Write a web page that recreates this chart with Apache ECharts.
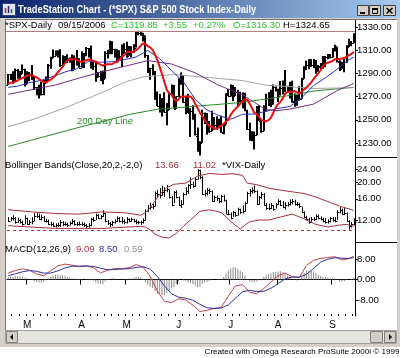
<!DOCTYPE html>
<html>
<head>
<meta charset="utf-8">
<title>TradeStation Chart - SPX</title>
<script src="https://cdn.jsdelivr.net/npm/echarts@6.0.0/dist/echarts.min.js"></script>
<style>
html,body{margin:0;padding:0;background:#fff;overflow:hidden}
#chart{width:400px;height:358px}
</style>
</head>
<body>
<div id="chart"></div>
<script>
// ---------- categories (trading days, 2006) ----------
const tradingDays = [
  [2, [16,17,21,22,23,24,27,28]],
  [3, [1,2,3,6,7,8,9,10,13,14,15,16,17,20,21,22,23,24,27,28,29,30,31]],
  [4, [3,4,5,6,7,10,11,12,13,17,18,19,20,21,24,25,26,27,28]],
  [5, [1,2,3,4,5,8,9,10,11,12,15,16,17,18,19,22,23,24,25,26,30,31]],
  [6, [1,2,5,6,7,8,9,12,13,14,15,16,19,20,21,22,23,26,27,28,29,30]],
  [7, [3,5,6,7,10,11,12,13,14,17,18,19,20,21,24,25,26,27,28,31]],
  [8, [1,2,3,4,7,8,9,10,11,14,15,16,17,18,21,22,23,24,25,28,29,30,31]],
  [9, [1,5,6,7,8,11,12,13,14,15]]
];
const monthLetters = {3:'M',4:'A',5:'M',6:'J',7:'J',8:'A',9:'S'};

// ---------- SPX daily OHLC ----------
const spxOpen = [1280.0,1289.4,1287.2,1283.0,1292.7,1287.8,1289.4,1294.1,
1280.7,1291.2,1289.1,1287.2,1278.3,1275.9,1278.5,1272.2,1281.4,1284.1,1297.5,1303.0,1305.3,1307.3,1305.1,1297.2,1305.0,1301.7,1302.9,1301.6,1293.2,1302.9,1300.3,
1294.9,1297.8,1305.9,1311.6,1309.0,1295.5,1296.6,1286.6,1288.1,1289.1,1285.3,1307.3,1309.9,1311.5,1311.3,1308.1,1301.7,1305.4,1309.7,
1310.6,1305.2,1313.2,1308.1,1312.3,1325.8,1324.7,1325.1,1322.6,1305.9,1291.2,1294.5,1292.1,1270.3,1261.8,1267.0,1262.1,1256.6,1258.6,1272.9,1280.0,1259.4,
1270.1,1285.7,1288.2,1265.2,1263.6,1256.1,1257.9,1252.3,1236.1,1223.7,1230.0,1256.2,1251.5,1240.1,1240.1,1252.2,1245.6,1244.5,1250.6,1238.9,1245.9,1272.9,
1270.1,1280.1,1270.6,1274.1,1265.5,1267.3,1272.4,1258.6,1242.3,1236.2,1234.5,1236.7,1259.8,1249.1,1240.3,1260.9,1268.9,1268.4,1263.2,1278.5,
1276.7,1270.9,1277.4,1280.3,1279.3,1275.7,1271.1,1265.7,1271.6,1266.7,1268.2,1285.3,1295.4,1297.5,1302.3,1297.5,1298.7,1292.9,1295.9,1295.1,1301.8,1304.3,1305.4,
1303.8,1311.0,1313.0,1300.2,1294.0,1298.9,1299.5,1312.7,1318.0,1316.3];
const spxHigh = [1289.4,1289.5,1291.9,1294.2,1293.8,1292.1,1297.6,1294.1,
1291.8,1291.2,1297.3,1288.2,1278.3,1280.3,1282.7,1284.4,1287.4,1298.1,1304.4,1310.5,1309.8,1310.0,1310.9,1305.6,1305.0,1306.5,1303.7,1306.2,1305.6,1310.2,1303.0,
1309.0,1307.6,1312.8,1311.9,1314.1,1300.7,1300.7,1290.9,1292.1,1292.5,1309.0,1310.4,1318.2,1317.7,1311.3,1310.8,1310.0,1315.0,1316.0,
1317.2,1313.7,1313.5,1315.1,1326.5,1326.7,1326.6,1325.1,1322.6,1305.9,1294.8,1297.9,1292.1,1274.4,1272.2,1268.8,1273.7,1264.5,1273.3,1280.5,1280.0,1270.1,
1285.7,1290.7,1288.2,1269.9,1272.5,1259.9,1262.6,1255.2,1243.4,1231.5,1258.6,1256.3,1255.9,1249.0,1257.9,1252.2,1253.1,1250.9,1253.4,1247.1,1272.9,1276.3,
1280.4,1280.1,1278.3,1275.8,1274.1,1273.6,1273.3,1258.6,1247.4,1240.1,1239.9,1261.8,1262.6,1250.0,1262.5,1272.4,1273.9,1275.9,1280.4,1278.7,
1276.7,1283.4,1283.9,1292.9,1279.3,1282.8,1283.7,1272.7,1271.6,1278.9,1286.2,1296.2,1300.8,1302.3,1302.3,1302.5,1301.5,1297.2,1298.9,1305.0,1305.0,1306.7,1306.8,
1312.0,1314.7,1313.0,1301.3,1300.1,1302.4,1314.3,1319.9,1318.0,1324.7];
const spxLow = [1280.0,1284.2,1281.3,1283.0,1285.4,1285.6,1289.4,1278.7,
1280.7,1283.2,1284.2,1275.7,1271.1,1268.4,1271.0,1271.1,1281.4,1282.7,1294.0,1303.0,1305.3,1303.6,1295.8,1295.6,1298.1,1298.9,1299.1,1291.8,1293.2,1296.7,1294.9,
1294.9,1294.7,1304.8,1303.8,1294.2,1293.2,1282.9,1286.4,1283.4,1280.7,1285.3,1302.8,1306.4,1306.6,1303.8,1299.2,1301.7,1295.6,1306.2,
1303.5,1305.2,1303.9,1307.9,1312.3,1322.9,1322.5,1317.4,1303.5,1290.4,1284.5,1288.5,1267.3,1261.8,1256.3,1252.9,1256.2,1245.3,1258.4,1271.8,1259.9,1259.4,
1269.2,1280.2,1264.6,1254.8,1255.8,1235.2,1250.0,1236.4,1222.5,1219.3,1230.0,1246.3,1237.2,1238.9,1240.1,1241.4,1241.4,1243.7,1238.9,1237.6,1245.9,1270.2,
1270.1,1265.9,1270.6,1261.4,1264.5,1259.7,1257.3,1241.4,1231.9,1231.5,1224.5,1236.7,1249.1,1238.9,1240.3,1257.2,1261.9,1261.0,1263.2,1274.3,
1265.3,1270.9,1271.7,1273.8,1273.2,1268.4,1264.7,1261.3,1262.1,1266.7,1268.2,1285.3,1292.7,1293.6,1295.5,1294.4,1289.8,1291.4,1292.7,1293.9,1295.3,1302.2,1302.9,
1303.8,1308.8,1299.3,1292.1,1294.0,1290.9,1299.5,1312.7,1313.3,1316.3];
const spxClose = [1289.4,1287.2,1283.0,1292.7,1287.8,1289.4,1294.1,1280.7,
1291.2,1289.1,1287.2,1278.3,1275.9,1278.5,1272.2,1281.4,1284.1,1297.5,1303.0,1305.3,1307.3,1305.1,1297.2,1305.0,1301.7,1302.9,1301.6,1293.2,1302.9,1300.3,1294.9,
1297.8,1305.9,1311.6,1309.0,1295.5,1296.6,1286.6,1288.1,1289.1,1285.3,1307.3,1309.9,1311.5,1311.3,1308.1,1301.7,1305.4,1309.7,1310.6,
1305.2,1313.2,1308.1,1312.3,1325.8,1324.7,1325.1,1322.9,1305.9,1291.2,1294.5,1292.1,1270.3,1261.8,1267.0,1262.1,1256.6,1258.6,1272.9,1280.2,1259.9,1270.1,
1285.7,1288.2,1265.3,1263.9,1256.2,1257.9,1252.3,1237.4,1223.7,1230.0,1256.2,1251.5,1240.1,1240.1,1252.2,1245.6,1244.5,1250.6,1239.2,1246.0,1272.9,1270.2,
1280.2,1270.9,1274.1,1265.5,1267.3,1272.4,1258.6,1242.3,1236.2,1234.5,1236.9,1259.8,1249.1,1240.3,1260.9,1268.9,1268.4,1263.2,1278.6,1276.7,
1270.9,1277.4,1280.3,1279.4,1275.8,1271.5,1265.9,1271.8,1266.7,1268.2,1285.6,1295.4,1297.5,1302.3,1297.5,1298.8,1292.9,1296.1,1295.1,1301.8,1304.3,1305.4,1303.8,
1311.0,1313.3,1300.3,1294.0,1298.9,1299.5,1313.0,1318.1,1316.3,1319.9];

// ---------- moving averages ----------
const ma10 = [1281,1282,1282,1283,1284,1285,1286,1287,1288,
1288.5,1288.2,1287.4,1286.6,1285.2,1283.7,1282.9,1281.9,1283.5,1284.7,1286.3,
1288.4,1291.0,1293.2,1295.8,1298.8,1300.9,1302.7,1302.2,1302.2,1301.7,
1300.5,1299.8,1300.6,1301.3,1302.0,1301.3,1300.8,1300.1,1298.6,1297.5,
1296.6,1297.5,1297.9,1297.9,1298.1,1299.4,1299.9,1301.8,1303.9,1306.1,
1308.1,1308.7,1308.5,1308.6,1310.0,1311.7,1314.0,1315.8,1315.4,1313.4,
1312.4,1310.3,1306.5,1301.4,1295.6,1289.3,1282.4,1276.0,1272.7,1271.6,
1268.2,1266.0,1267.5,1270.1,1270.0,1270.1,1270.1,1270.0,1268.0,1263.7,
1260.1,1256.1,1253.1,1249.4,1246.9,1244.5,1244.1,1242.9,1242.1,1243.5,
1245.0,1246.6,1248.3,1250.1,1254.2,1257.2,1259.4,1261.4,1263.7,1265.9,
1267.8,1267.4,1263.8,1260.2,1255.9,1254.8,1252.3,1249.7,1249.1,1248.8,
1249.7,1251.8,1256.1,1260.3,1263.7,1265.4,1268.6,1272.5,1274.0,1274.2,
1274.0,1274.8,1273.6,1272.8,1274.3,1276.1,1277.8,1280.1,1282.2,1285.0,
1287.7,1290.1,1292.9,1296.3,1298.2,1299.2,1299.8,1300.7,1302.3,1302.4,
1302.5,1302.8,1303.2,1304.4,1305.7,1306.8,1308.4];
const ma20Days = [0,4,9,14,19,24,29,34,39,44,49,54,59,64,69,74,79,84,89,94,99,104,109,114,119,124,129,134,139,144,146];
const ma20 = [1278,1279,1282,1284,1287.4,1291.2,1294.0,1300.4,1299.6,1300.1,1301.8,1304.1,1309.8,1302.8,1292.5,1282.8,1267.7,1258.4,1253.6,1250.5,1254.7,1255.0,1257.3,1259.8,1261.5,1269.0,1279.6,1286.2,1293.7,1302.0,1304.1];
const ma50Days = [0,10,20,30,39,49,59,69,79,89,99,104,109,114,119,129,139,146];
const ma50 = [1272,1276,1280,1286,1291,1296.0,1301.0,1298.1,1290.5,1279.7,1271.6,1265,1258.7,1258,1259.2,1263.5,1275.2,1281.4];
const ma100Days = [0,10,25,39,50,57,70,81,99,109,119,129,139,146];
const ma100 = [1244,1250,1261,1273,1283,1287,1289,1287,1283.8,1279.8,1278.6,1277.0,1277.4,1277.7];
const ma200Days = [0,29,52,63,81,99,116,130,146];
const ma200 = [1227,1243,1255,1259,1262,1265,1270,1275,1278];

// ---------- VIX daily ----------
const vixHigh = [12.4,12.4,12.7,12.4,12.3,12.1,11.8,12.7,
12.3,11.9,12.4,13.1,13.2,13.0,12.8,12.6,12.1,12.0,11.6,11.5,11.4,11.5,11.9,11.7,11.6,11.5,11.7,12.1,11.9,11.6,11.7,
11.6,11.5,11.3,11.4,12.3,12.4,13.0,12.9,12.8,13.6,13.1,11.9,11.6,11.8,12.0,12.5,12.4,12.4,12.0,
12.4,12.2,12.3,12.1,12.0,11.8,11.8,12.2,13.8,14.6,15.1,14.9,17.6,17.9,18.4,19.0,18.6,19.2,18.0,16.5,17.7,17.8,
16.4,15.6,17.3,18.6,19.4,21.3,20.1,21.2,23.8,23.6,21.6,17.9,18.4,18.3,17.8,16.6,16.6,16.1,16.8,16.8,15.7,13.6,
13.2,13.5,13.3,14.1,13.9,14.5,15.3,17.5,18.2,18.6,19.0,17.8,16.5,17.4,17.2,15.0,14.9,15.0,14.6,15.0,
15.8,15.6,15.4,15.2,15.2,15.8,15.9,15.7,15.2,15.0,14.3,13.4,12.6,12.3,12.4,12.4,12.9,12.8,12.5,12.3,12.2,12.0,12.4,
12.4,12.4,13.6,14.2,13.9,14.0,13.2,11.9,11.6,12.2];
const vixLow = [11.8,11.9,12.0,11.5,11.6,11.5,11.2,11.4,
11.3,11.3,11.4,11.9,12.4,12.1,12.0,11.8,11.7,11.3,11.1,11.0,10.9,11.0,11.0,11.1,11.2,11.0,11.2,11.4,11.2,11.1,11.2,
11.1,11.0,10.8,10.9,11.1,11.8,12.1,12.3,12.2,12.6,11.7,11.3,11.0,11.1,11.5,11.8,11.7,11.5,11.4,
11.5,11.7,11.8,11.7,11.4,11.4,11.3,11.5,12.0,13.5,13.9,14.0,14.6,16.5,16.2,16.8,16.5,17.6,16.2,14.6,15.2,16.2,
14.6,14.2,14.9,16.9,17.2,18.4,18.7,19.0,20.9,21.0,17.0,16.6,16.9,17.2,15.5,15.4,15.6,15.2,15.3,15.5,13.1,12.9,
12.2,12.6,12.6,12.8,13.1,13.2,13.5,15.2,16.6,17.3,17.4,14.8,14.9,16.1,14.7,13.9,13.8,14.0,13.7,14.1,
14.8,14.6,14.2,13.9,14.5,14.7,14.9,14.7,14.6,14.2,13.3,12.4,12.0,11.5,11.8,11.9,12.1,12.2,12.0,11.7,11.5,11.5,11.7,
11.8,11.7,12.1,13.2,12.9,12.9,11.8,10.6,10.9,11.2];
const vixClose = [11.9,12.3,12.3,11.6,12.0,11.6,11.4,12.3,
11.4,11.6,11.9,12.7,12.7,12.2,12.5,11.9,11.9,11.4,11.3,11.1,11.2,11.2,11.6,11.3,11.4,11.2,11.5,11.9,11.4,11.3,11.4,
11.4,11.2,11.0,11.2,12.2,12.0,12.9,12.4,12.6,13.2,11.8,11.5,11.3,11.6,11.9,12.3,11.9,11.9,11.6,
12.2,11.9,12.1,11.9,11.6,11.6,11.6,12.0,13.6,14.2,14.3,14.6,17.4,17.2,16.9,17.6,18.1,18.3,16.4,14.7,17.5,16.4,
14.7,14.9,17.1,17.8,19.2,19.5,19.1,21.0,23.8,21.5,17.0,17.4,18.1,17.7,15.6,16.3,16.1,15.5,16.7,15.7,13.1,13.1,
12.3,13.3,12.8,13.9,13.3,13.5,15.2,17.3,17.7,18.1,17.7,14.9,16.3,17.2,14.8,14.1,14.2,14.8,13.9,14.9,
15.6,14.8,14.4,14.7,15.0,15.4,15.5,14.9,14.9,14.5,13.4,12.5,12.2,11.6,12.2,12.2,12.7,12.3,12.2,11.9,11.7,11.8,12.3,
12.0,11.9,13.4,13.8,13.1,13.2,11.9,11.0,11.4,11.6];
const bbUpDays = [0,10,20,30,40,50,56,58,60,62,64,67,70,75,80,85,90,95,99,101,105,110,115,120,125,130,135,140,146];
const bbUpper = [13.8,13.4,13.1,13.0,13.4,13.2,12.8,13.3,14.2,15.5,17.0,18.6,19.5,19.8,21.8,22.6,22.3,22.5,22.0,19.8,19.4,18.5,18.0,17.6,17.2,16.4,15.4,14.5,13.66];
const bbLowDays = [0,10,20,30,40,50,56,58,60,62,65,68,71,74,77,81,85,90,94,98,100,102,106,110,115,120,125,130,135,140,143,146];
const bbLower = [11.1,10.9,10.7,10.7,10.7,10.9,11.0,10.9,10.5,9.9,9.5,9.4,10.0,11.0,12.0,13.5,13.8,13.3,11.8,10.6,11.2,11.7,12.0,12.0,12.5,13.0,12.2,11.3,10.9,11.2,11.3,11.02];
const vixRefLevel = 10.5;

// ---------- MACD(12,26,9) ----------
const macdDays = [0,3,6,9,12,15,18,21,24,27,30,33,36,39,42,45,48,51,54,57,60,63,66,69,72,75,78,81,84,87,90,93,96,99,102,105,108,111,114,117,120,123,126,129,132,135,138,141,144,146];
const macdLine = [2.5,3.5,4.2,3.6,2.2,1.4,3.5,5.3,6.0,5.6, 5.0,5.4,4.6,2.6,3.6,4.3,4.2,4.6,5.8,4.8, 1.2,-4.5,-8.5,-9.0,-7.5,-8.0,-10.0,-12.5,-12.0,-11.3, -10.8,-6.5,-2.5,-2.0,-5.0,-5.5,-3.5,-1.0,1.5,2.5, 1.0,0.8,5.5,7.5,8.2,8.6,8.9,7.6,8.2,9.09];
const macdSignal = [1.5,2.2,3.0,3.5,3.2,2.5,2.5,3.4,4.5,5.2, 5.2,5.2,5.1,4.4,3.8,3.9,4.1,4.2,4.7,5.0, 4.0,1.2,-2.5,-5.6,-6.9,-7.3,-8.1,-9.7,-11.0,-11.3, -11.1,-9.9,-7.3,-4.8,-4.2,-4.7,-4.6,-3.4,-1.6,0.2, 1.0,0.9,2.0,4.3,6.8,7.9,8.5,8.3,8.2,8.50];
const macdHist = [1.0,1.1,1.2,1.3,1.4,1.3,1.2,0.7,0.5,0.1,-0.2,-0.7,-1.0,-1.1,-1.3,-1.1,-0.4,0.4,1.0,1.5,
1.8,1.9,1.6,1.6,1.5,1.1,0.8,0.4,0.4,0.2,-0.2,-0.2,0.0,0.2,0.2,-0.3,-0.5,-1.2,-1.6,-1.8,
-1.9,-0.8,-0.2,0.3,0.5,0.4,0.1,0.1,0.1,0.3,0.2,0.4,0.3,0.5,1.1,1.1,0.8,-0.2,-1.1,-2.0,
-2.8,-3.3,-4.5,-5.7,-5.9,-6.1,-6.0,-5.3,-4.3,-3.4,-2.9,-1.9,-0.6,0.0,-0.4,-0.7,-1.1,-1.4,-1.9,-2.4,
-3.0,-2.8,-1.7,-1.2,-1.0,-0.6,-0.2,0.0,0.1,0.2,0.3,1.0,2.4,3.4,4.3,4.8,4.8,4.2,3.4,2.8,
1.5,0.2,-0.8,-1.0,-1.1,-0.8,-0.4,-0.3,1.1,1.6,2.0,2.4,2.9,3.0,3.1,3.2,2.9,2.3,1.6,1.0,
0.0,-0.1,-0.4,-0.1,1.2,2.6,3.5,3.4,3.3,3.2,2.5,1.9,1.4,1.1,0.9,0.7,0.4,0.6,0.4,-0.2,
-0.8,-0.7,-0.6,-0.2,0.0,0.2,0.59];

// ---------- axis tick labels ----------
const priceTicks = [1230,1250,1270,1290,1310,1330];
const vixTicks = [12,16,20,24];
const macdTicks = [-8,0,8];

// ---------- build ----------
const categories = [];
const monthStart = {};
tradingDays.forEach(([m, days]) => days.forEach((d, k) => {
  if (k === 0 && monthLetters[m] && d <= 3) monthStart[categories.length] = monthLetters[m];
  categories.push(String(m).padStart(2,'0') + '/' + String(d).padStart(2,'0') + '/2006');
}));
const pairs = (days, vals) => days.map((d, k) => [d, vals[k]]);
const spxData = categories.map((c, i) => [i, spxOpen[i], spxHigh[i], spxLow[i], spxClose[i]]);
const vixData = categories.map((c, i) => [i, vixHigh[i], vixLow[i], vixClose[i]]);

const FONT = '"Liberation Sans", Arial, Helvetica, sans-serif';

function ohlcBar(params, api) {
  const x = api.value(0);
  const h = api.coord([x, api.value(2)]);
  const l = api.coord([x, api.value(3)]);
  const o = api.coord([x, api.value(1)]);
  const c = api.coord([x, api.value(4)]);
  const cx = Math.round(h[0]);
  return {type:'group', children:[
    {type:'line', shape:{x1:cx, y1:h[1], x2:cx, y2:l[1]}, style:{stroke:'#000', lineWidth:2}},
    {type:'line', shape:{x1:cx-2, y1:Math.round(o[1])+0.5, x2:cx, y2:Math.round(o[1])+0.5}, style:{stroke:'#000', lineWidth:1}},
    {type:'line', shape:{x1:cx, y1:Math.round(c[1])+0.5, x2:cx+2, y2:Math.round(c[1])+0.5}, style:{stroke:'#000', lineWidth:1}}
  ]};
}
function hlcBar(params, api) {
  const x = api.value(0);
  const h = api.coord([x, api.value(1)]);
  const l = api.coord([x, api.value(2)]);
  const c = api.coord([x, api.value(3)]);
  const cx = Math.round(h[0]) + 0.5;
  return {type:'group', children:[
    {type:'line', shape:{x1:cx, y1:h[1]-0.5, x2:cx, y2:l[1]+0.5}, style:{stroke:'#000', lineWidth:1}},
    {type:'line', shape:{x1:cx, y1:Math.round(c[1])+0.5, x2:cx+2, y2:Math.round(c[1])+0.5}, style:{stroke:'#000', lineWidth:1}}
  ]};
}

const yAxisCommon = (ticks, extra) => Object.assign({
  position:'right',
  axisLine:{show:true, lineStyle:{color:'#000', width:1}},
  splitLine:{show:false},
  axisTick:{show:true, length:3, customValues:ticks, lineStyle:{color:'#000', width:1}},
  axisLabel:{show:true, customValues:ticks, formatter:v => Number(v).toFixed(2), color:'#000', fontSize:9.6, fontFamily:FONT, margin:2}
}, extra);

const lineS = (name, data, color, width, xi, yi, extra) => Object.assign({
  name, type:'line', data, xAxisIndex:xi, yAxisIndex:yi, showSymbol:false, symbol:'none',
  lineStyle:{color, width}, itemStyle:{color}, silent:true, animation:false, z:3
}, extra || {});

const TS = 9.5;
const txt = (x, y, text, fill, size, extra) => Object.assign({
  type:'text', x, y, z:100, silent:true,
  style:{text, fill, font:(size||TS) + 'px ' + FONT, verticalAlign:'middle', align:'left'}
}, extra || {});
const rect = (x, y, w, h, fill, stroke, z) => ({type:'rect', shape:{x, y, width:w, height:h}, style:{fill, stroke:stroke||null, lineWidth:1}, z:(z===undefined?-5:z), silent:true});
const seg = (x1, y1, x2, y2, color, w, z) => ({type:'line', shape:{x1, y1, x2, y2}, style:{stroke:color, lineWidth:w||1}, z:(z===undefined?5:z), silent:true});

const titleGrad = new echarts.graphic.LinearGradient(0, 0, 1, 0, [{offset:0, color:'#0a246a'}, {offset:1, color:'#a6caf0'}]);
const green = '#2fc22f', bandRed = '#a8303c';

const graphics = [
  rect(0, 0, 400, 347, '#d4d0c8', null, -20),
  rect(5, 19, 392, 311, '#ffffff', null, -19),
  rect(0, 0, 400, 18, titleGrad, null, -18),
  // icon
  rect(2.5, 3.5, 13, 12, '#dfe6f2', '#304080', -17),
  seg(5.5, 13, 5.5, 8, '#c02020', 1.5, -16), seg(8.5, 13, 8.5, 6, '#202080', 1.5, -16), seg(11.5, 13, 11.5, 9, '#208020', 1.5, -16),
  {type:'text', x:18, y:10, z:100, silent:true, scaleX:0.84,
   style:{text:'TradeStation Chart - (*SPX) S&P 500 Stock Index-Daily', fill:'#ffffff', font:'bold 11px ' + FONT, verticalAlign:'middle', align:'left'}},
  // window buttons
  rect(357.5, 5.5, 11, 10, '#d4d0c8', '#404040', 10),
  seg(360, 13, 365, 13, '#000', 2, 11),
  rect(369.5, 5.5, 11, 10, '#d4d0c8', '#404040', 10),
  rect(372.5, 8.5, 5, 5, null, '#000', 11), seg(372, 9, 378, 9, '#000', 2, 11),
  rect(383.5, 5.5, 12, 10, '#d4d0c8', '#404040', 10),
  seg(386.5, 8, 392.5, 13.5, '#000', 1.6, 11), seg(392.5, 8, 386.5, 13.5, '#000', 1.6, 11),
  // chart frame lines
  seg(5.5, 19, 5.5, 330, '#707070', 1, 5),
  seg(5, 19.5, 397, 19.5, '#707070', 1, 5),
  seg(6, 31.5, 355, 31.5, '#b08080', 1, 5),
  seg(355, 157.5, 397, 157.5, '#000', 1, 5),
  seg(355, 242.5, 397, 242.5, '#000', 1, 5),
  // scrollbar
  rect(5.5, 330.5, 391, 13, '#e6e4de', '#a0a0a0', -4),
  rect(6.5, 331.5, 11, 11, '#d4d0c8', '#808080', -3),
  {type:'polygon', shape:{points:[[10,337],[13,334],[13,340]]}, style:{fill:'#000'}, z:-2, silent:true},
  rect(370.5, 331.5, 12, 11, '#d4d0c8', '#808080', -3),
  rect(384.5, 331.5, 11, 11, '#d4d0c8', '#808080', -3),
  {type:'polygon', shape:{points:[[392,337],[389,334],[389,340]]}, style:{fill:'#000'}, z:-2, silent:true},
  // header row
  txt(5, 25.5, '*SPX-Daily', '#000'),
  txt(58, 25.5, '09/15/2006', '#000'),
  txt(111, 25.5, 'C=1319.85', green),
  txt(163, 25.5, '+3.55', green),
  txt(193, 25.5, '+0.27%', green),
  txt(233, 25.5, 'O=1316.30', green),
  txt(283, 25.5, 'H=1324.65', '#000'),
  txt(77, 121.5, '200 Day Line', '#2a8a2a'),
  // VIX pane header
  txt(5, 165, 'Bollinger Bands(Close,20,2,-2,0)', '#000'),
  txt(155, 165, '13.66', bandRed),
  txt(193, 165, '11.02', bandRed),
  txt(222, 165, '*VIX-Daily', '#000'),
  // MACD pane header
  txt(5, 249, 'MACD(12,26,9)', '#000'),
  txt(76, 249, '9.09', bandRed),
  txt(99, 249, '8.50', '#3030a0'),
  txt(124, 249, '0.59', '#909090'),
  // footer
  {type:'text', x:399.5, y:351.5, z:100, silent:true,
   style:{text:'Created with Omega Research ProSuite 2000i \u00A9 1999', fill:'#000', font:'8.1px ' + FONT, verticalAlign:'middle', align:'right'}}
];

const option = {
  animation:false,
  backgroundColor:'#ffffff',
  grid:[
    {left:7, right:45, top:20, height:137},
    {left:7, right:45, top:157, height:85},
    {left:7, right:45, top:242, height:74}
  ],
  xAxis:[
    {type:'category', gridIndex:0, data:categories, show:false, boundaryGap:true},
    {type:'category', gridIndex:1, data:categories, show:false, boundaryGap:true},
    {type:'category', gridIndex:2, data:categories, boundaryGap:true, position:'bottom',
      axisLine:{show:true, lineStyle:{color:'#000', width:1}},
      axisTick:{show:true, interval:(i) => (i in monthStart), length:5, lineStyle:{color:'#000', width:1}},
      axisLabel:{show:true, interval:(i) => (i in monthStart), formatter:(v, i) => monthStart[i] || '', color:'#000', fontSize:10, fontFamily:FONT, margin:4},
      splitLine:{show:false}},
    {type:'category', gridIndex:2, data:categories, boundaryGap:true, position:'bottom',
      axisLine:{show:false}, axisLabel:{show:false}, splitLine:{show:false},
      axisTick:{show:true, inside:true, interval:(i) => i % 3 === 2, length:2, lineStyle:{color:'#000', width:1}}}
  ],
  yAxis:[
    yAxisCommon(priceTicks, {type:'value', gridIndex:0, min:1217.93, max:1336.03}),
    yAxisCommon(vixTicks, {type:'log', logBase:10, gridIndex:1, min:8.898, max:28.25}),
    yAxisCommon(macdTicks, {type:'value', gridIndex:2, min:-14.24, max:14.63})
  ],
  series:[
    {type:'custom', name:'SPX', xAxisIndex:0, yAxisIndex:0, data:spxData, renderItem:ohlcBar, encode:{x:0, y:[1,2,3,4]}, silent:true, z:2},
    lineS('200 day', pairs(ma200Days, ma200), '#2a8a2a', 1, 0, 0),
    lineS('100 day', pairs(ma100Days, ma100), '#a4a4a4', 1, 0, 0),
    lineS('50 day', pairs(ma50Days, ma50), '#7a2a8a', 1, 0, 0),
    lineS('20 day', pairs(ma20Days, ma20), '#2a34c8', 1, 0, 0),
    lineS('10 day', ma10, '#e61010', 2, 0, 0, {z:4}),
    {type:'custom', name:'VIX', xAxisIndex:1, yAxisIndex:1, data:vixData, renderItem:hlcBar, encode:{x:0, y:[1,2,3]}, silent:true, z:2},
    lineS('BB upper', pairs(bbUpDays, bbUpper), bandRed, 1, 1, 1, {
      markLine:{silent:true, symbol:'none', label:{show:false}, animation:false,
        lineStyle:{color:'#c03030', type:[3,3], width:1}, data:[{yAxis:vixRefLevel}]}}),
    lineS('BB lower', pairs(bbLowDays, bbLower), bandRed, 1, 1, 1),
    {type:'bar', name:'Hist', xAxisIndex:2, yAxisIndex:2, data:macdHist, barWidth:1, itemStyle:{color:'#8a8a8a'}, silent:true, animation:false},
    lineS('MACD', pairs(macdDays, macdLine), '#c8404c', 1, 2, 2),
    lineS('Signal', pairs(macdDays, macdSignal), '#3030a0', 1, 2, 2)
  ],
  graphic:{elements:graphics}
};

const chart = echarts.init(document.getElementById('chart'), null, {renderer:'canvas', width:400, height:358});
chart.setOption(option);
</script>
</body>
</html>
